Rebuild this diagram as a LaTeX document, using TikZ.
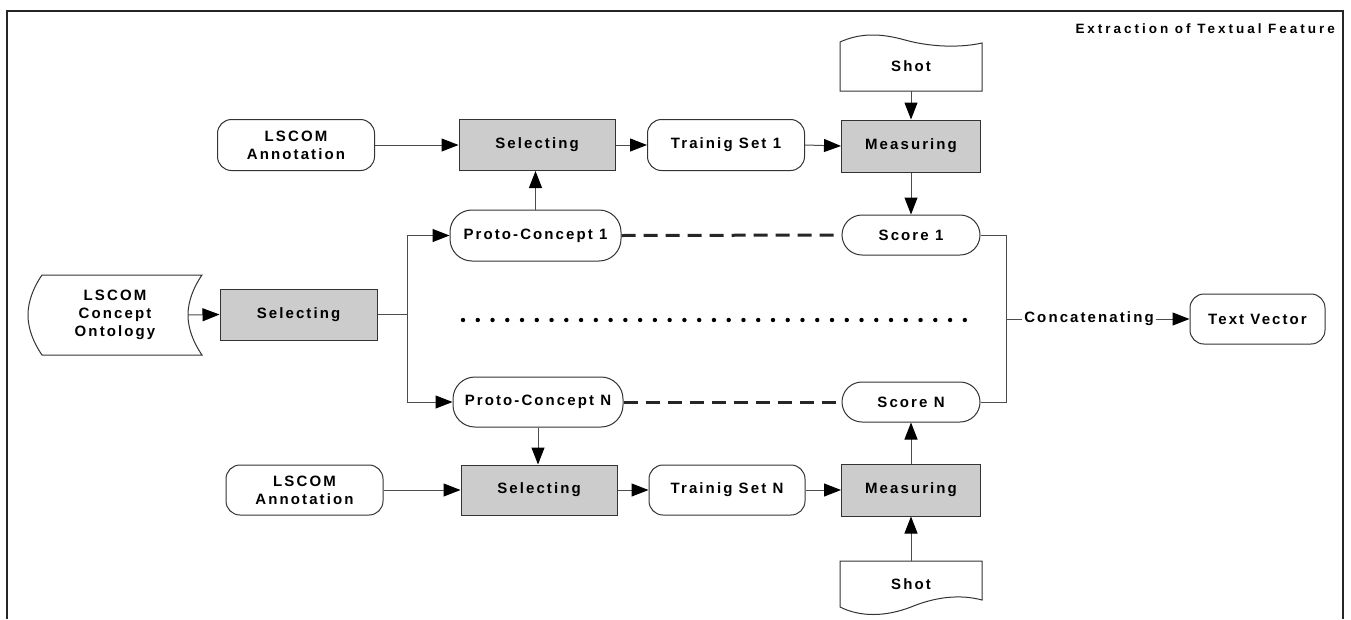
\documentclass[tikz,border=0pt]{standalone}
\usepackage{fontspec}
\newfontfamily\lab[LetterSpace=14]{Liberation Sans}
\newfontfamily\ttlfont[LetterSpace=22]{Liberation Sans}
\usetikzlibrary{arrows.meta}
\definecolor{procgray}{RGB}{204,204,204}
\begin{document}
\begin{tikzpicture}[x=1pt,y=-1pt,
 lbl/.style={font=\lab\bfseries\fontsize{15}{18}\selectfont, align=center, inner sep=0pt},
 proc/.style={lbl, draw=black!80, fill=procgray, minimum width=156pt, minimum height=51pt, line width=1pt},
 term/.style={lbl, draw=black!80, fill=white, rounded corners=14pt, minimum width=157pt, minimum height=51pt, line width=1pt},
 pill/.style={lbl, draw=black!80, fill=white, rounded corners=22pt, minimum height=51pt, line width=1pt},
 conn/.style={draw=black!70, line width=1pt},
 arr/.style={conn, -{Triangle[length=17pt,width=13pt,color=black]}},
 dashline/.style={draw=black!85, line width=3pt, dash pattern=on 14pt off 8pt},
 outline/.style={draw=black!80, line width=1pt, fill=white},
 ]
\useasboundingbox (0,0) rectangle (1351,619);
% frame
\draw[line width=1.5pt, black!85] (7,619) -- (7,11) -- (1343,11) -- (1343,619);
\node[font=\ttlfont\bfseries\fontsize{13.5}{15}\selectfont, anchor=east, inner sep=0pt] (title) at (1335,28.5) {Extraction of Textual Feature};

% custom outlines
\draw[outline] (42,275) -- (202,275) .. controls (193,288) and (188,302) .. (188,315) .. controls (188,328) and (193,342) .. (202,355) -- (42,355) .. controls (33,342) and (28,328) .. (28,315) .. controls (28,302) and (33,288) .. (42,275) -- cycle;
\draw[outline] (840,42) .. controls (860,33) and (880,33) .. (905,40) .. controls (930,47) and (960,48) .. (982,43) -- (982,91) -- (840,91) -- cycle;
\draw[outline] (840,561) -- (982,561) -- (982,600) .. controls (960,594) and (935,597) .. (911,607) .. controls (885,617) and (860,617) .. (840,607) -- cycle;

% nodes
\node[lbl, minimum width=146pt, minimum height=80pt] (ont) at (115,315) {LSCOM\\Concept\\Ontology};
\node[proc, minimum width=157pt] (sel0) at (298.5,314.5) {Selecting};

\node[term] (ann1) at (296,145) {LSCOM\\Annotation};
\node[proc] (sel1) at (537,145) {Selecting};
\node[term] (ts1) at (726,145) {Trainig Set 1};
\node[proc, minimum width=139pt, minimum height=52pt] (meas1) at (911,146) {Measuring};
\node[lbl, minimum width=142pt, minimum height=50pt] (shot1) at (911,66) {Shot};
\node[pill, minimum width=138pt, minimum height=40pt, rounded corners=20pt] (sc1) at (911,235) {Score 1};
\node[pill, minimum width=171pt] (pc1) at (535.5,235.5) {Proto-Concept 1};

\node[pill, minimum width=170pt, minimum height=50pt] (pcN) at (538,402) {Proto-Concept N};
\node[pill, minimum width=138pt, minimum height=40pt, rounded corners=20pt] (scN) at (911,402) {Score N};

\node[term, minimum height=50pt] (ann2) at (304.5,490) {LSCOM\\Annotation};
\node[proc, minimum height=50pt] (sel2) at (539,490) {Selecting};
\node[term, minimum width=156pt, minimum height=50pt] (ts2) at (727,490) {Trainig Set N};
\node[proc, minimum width=139pt, minimum height=52pt] (meas2) at (911,490) {Measuring};
\node[lbl, minimum width=142pt, minimum height=46pt] (shot2) at (911,584) {Shot};

\node[term, minimum width=135pt, minimum height=50pt] (tv) at (1257.5,319) {Text Vector};
\node[lbl, inner sep=2pt] (cat) at (1089,319) {Concatenating};

% dots
\foreach \i in {0,...,34} \fill[black] (463+\i*14.76,320) circle (2.2pt);

% connectors
\draw[arr] (ont.east) -- (sel0.west);
\coordinate (br) at (407,314.5);
\draw[conn] (sel0.east) -- (br);
\draw[arr] (br) |- (pc1.west);
\draw[arr] (br) |- (pcN.west);

\draw[arr] (ann1.east) -- (sel1.west);
\draw[arr] (sel1.east) -- (ts1.west);
\draw[arr] (ts1.east) -- (meas1.west);
\draw[arr] (shot1.south) -- (meas1.north);
\draw[arr] (meas1.south) -- (sc1.north);
\draw[arr] (pc1.north) -- (sel1.south -| pc1.north);
\draw[dashline] (pc1.east) -- (sc1.west);

\draw[arr] (pcN.south) -- (sel2.north -| pcN.south);
\draw[arr] (ann2.east) -- (sel2.west);
\draw[arr] (sel2.east) -- (ts2.west);
\draw[arr] (ts2.east) -- (meas2.west);
\draw[arr] (shot2.north) -- (meas2.south);
\draw[arr] (meas2.north) -- (scN.south);
\draw[dashline] (pcN.east) -- (scN.west);

\coordinate (cj) at (1006,319);
\draw[conn] (sc1.east) -| (cj) |- (scN.east);
\draw[conn] (cj) -- (cat.west);
\draw[arr] (cat.east) -- (tv.west);
\end{tikzpicture}
\end{document}
